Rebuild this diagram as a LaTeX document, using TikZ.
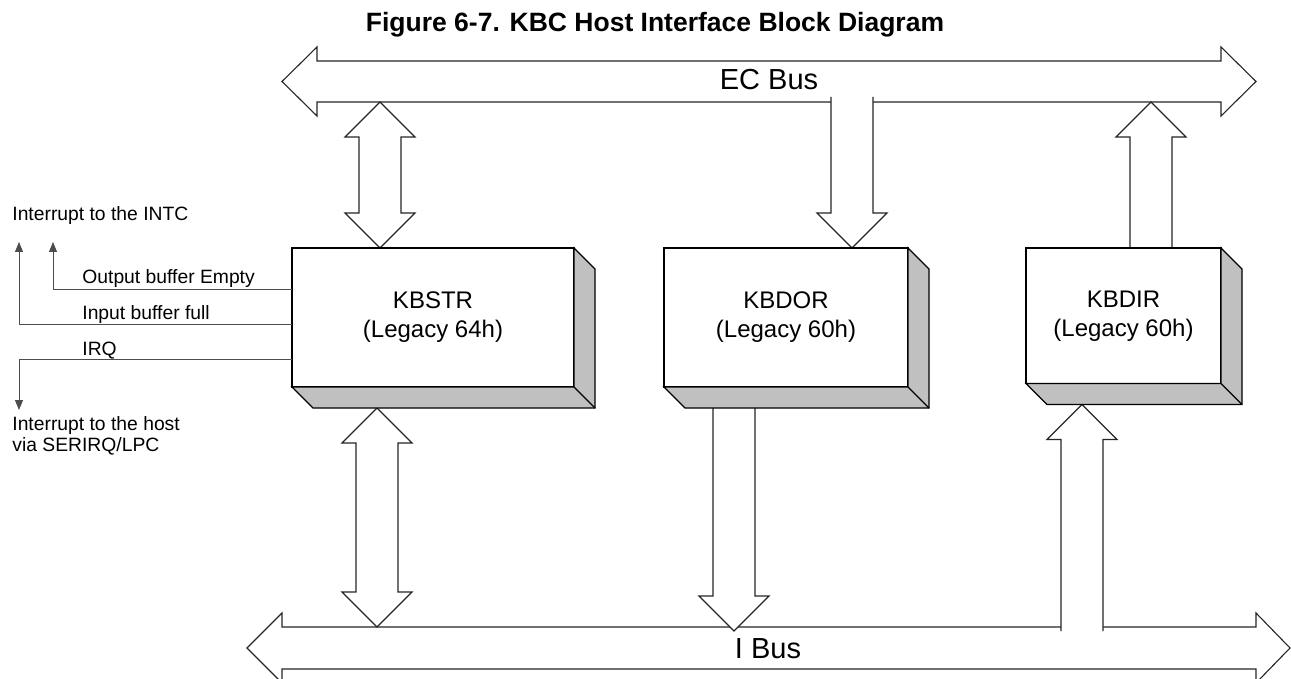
\documentclass[tikz,border=0pt]{standalone}
\usepackage{fontspec}
\setmainfont{Liberation Sans}
\usetikzlibrary{arrows.meta,calc,backgrounds}
\definecolor{shadegray}{HTML}{C0C0C0}

\begin{document}
\begin{tikzpicture}[x=0.5pt,y=-0.5pt,
    fat/.style={draw=black!85,line width=0.55pt,fill=white},
    regbox/.style={draw=black,line width=0.55pt,fill=white,inner sep=0pt,outer sep=0pt,align=center,font=\fontsize{12}{14.5}\selectfont},
    side/.style={draw=black,line width=0.55pt,fill=shadegray},
    sig/.style={draw=black!70,line width=0.5pt,-{Triangle[length=5pt,width=4pt]}},
    lbl/.style={inner sep=0pt,font=\fontsize{9.65}{10.5}\selectfont},
    buslbl/.style={inner sep=0pt,font=\fontsize{14.5}{17}\selectfont}]
    \useasboundingbox (0,0) rectangle (1291,679);

    \node[inner sep=0pt,anchor=base,font=\bfseries\fontsize{13.25}{16}\selectfont] (title) at (655,32) {Figure 6-7. KBC Host Interface Block Diagram};

    \node[regbox,minimum width=141pt,minimum height=69.5pt] (kbstr) at (433,317.5) {KBSTR\\(Legacy 64h)};
    \node[regbox,minimum width=122pt,minimum height=69.5pt] (kbdor) at (786,317.5) {KBDOR\\(Legacy 60h)};
    \node[regbox,minimum width=97.5pt,minimum height=67.75pt] (kbdir) at (1123.5,315.75) {KBDIR\\(Legacy 60h)};

    \foreach \reg in {kbstr,kbdor,kbdir} {
        \filldraw[side] (\reg.north east) -- ++(21,21) -- ($(\reg.south east)+(21,21)$) -- ($(\reg.south west)+(21,21)$) -- (\reg.south west) -- (\reg.south east) -- cycle;
        \draw[side] (\reg.south east) -- ++(21,21);
    }

    \node[buslbl,anchor=base] (ecbus) at (769,90) {EC Bus};
    \node[buslbl,anchor=base] (ibus) at (768,658) {I Bus};

    \node[lbl,anchor=base west] (intc) at (12,221) {Interrupt to the INTC};
    \node[lbl,anchor=base west] (obe) at (82,284) {Output buffer Empty};
    \node[lbl,anchor=base west] (ibf) at (82,320) {Input buffer full};
    \node[lbl,anchor=base west] (irq) at (82,356) {IRQ};
    \node[lbl,anchor=north west,align=left] (host) at (12,416) {Interrupt to the host\\via SERIRQ/LPC};

    \coordinate (obe row) at (0,290);
    \coordinate (ibf row) at (0,325);
    \coordinate (irq row) at (0,360);
    \coordinate (intc a) at (19,242);
    \coordinate (intc b) at (53,242);
    \coordinate (host a) at (19,410);
    \draw[sig] (kbstr.west |- obe row) -| (intc b);
    \draw[sig] (kbstr.west |- ibf row) -| (intc a);
    \draw[sig] (kbstr.west |- irq row) -| (host a);

    \begin{scope}[on background layer]
        \fill[white] (0,0) rectangle (1291,679);
        \filldraw[fat] (282,81.5) -- ++(35,-34.5) -- ++(0,14) -- (1221,61) -- ++(0,-14) -- (1256,81.5) -- (1221,116) -- ++(0,-14) -- (317,102) -- ++(0,14) -- cycle;
        \filldraw[fat] (247,648) -- ++(35,-35) -- ++(0,14) -- (1256,627) -- ++(0,-14) -- (1290,648) -- (1256,683) -- ++(0,-14) -- (282,669) -- ++(0,14) -- cycle;

        \coordinate (ec str) at (380,102);
        \coordinate (i str) at (377,627);
        \coordinate (ec dor) at (852,97);
        \coordinate (i dor) at (734,631);
        \coordinate (ec dir) at (1151,102);
        \coordinate (i dir) at (1082,631);
        \coordinate (str low) at ($(i str |- kbstr.south)+(0,21)$);
        \coordinate (dor low) at ($(i dor |- kbdor.south)+(0,21)$);
        \coordinate (dir low) at ($(i dir |- kbdir.south)+(0,21)$);

        \filldraw[fat] (ec str) -- ++(35,35) -- ++(-14,0) |- ($(ec str |- kbstr.north)+(21,-35)$) -- ++(14,0) -- (ec str |- kbstr.north) -- ++(-35,-35) -- ++(14,0) |- ($(ec str)+(-21,35)$) -- ++(-14,0) -- cycle;
        \filldraw[fat] (str low) -- ++(35,35) -- ++(-14,0) |- ($(i str)+(21,-35)$) -- ++(14,0) -- (i str) -- ++(-35,-35) -- ++(14,0) |- ($(str low)+(-21,35)$) -- ++(-14,0) -- cycle;
        \filldraw[fat] ($(ec dor)+(-21,0)$) |- ($(ec dor |- kbdor.north)+(-35,-35)$) -- (ec dor |- kbdor.north) -- ++(35,-35) -- ++(-14,0) |- ($(ec dor)+(21,0)$);
        \filldraw[fat] ($(dor low)+(-21,0)$) |- ($(i dor)+(-35,-35)$) -- (i dor) -- ++(35,-35) -- ++(-14,0) |- ($(dor low)+(21,0)$);
        \filldraw[fat] ($(ec dir |- kbdir.north)+(-21,0)$) |- ($(ec dir)+(-35,35)$) -- (ec dir) -- ++(35,35) -- ++(-14,0) |- ($(ec dir |- kbdir.north)+(21,0)$);
        \filldraw[fat] ($(i dir)+(-21,0)$) |- ($(dir low)+(-35,35)$) -- (dir low) -- ++(35,35) -- ++(-14,0) |- ($(i dir)+(21,0)$);
    \end{scope}
\end{tikzpicture}
\end{document}
